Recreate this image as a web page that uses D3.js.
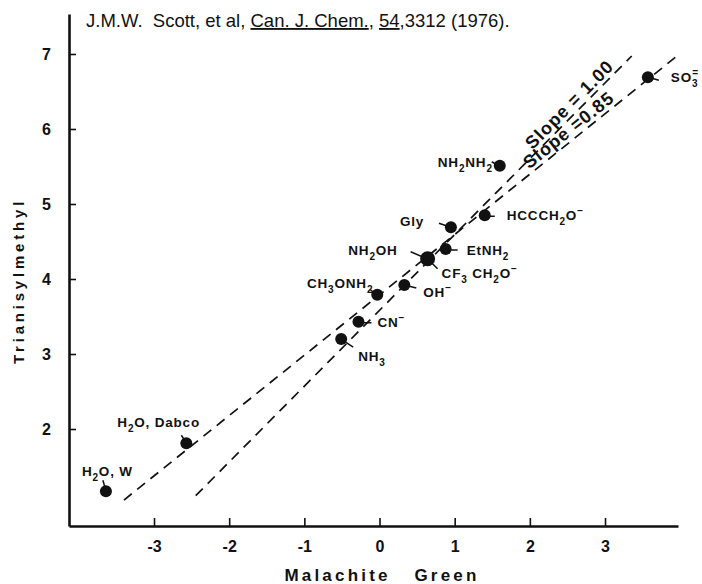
<!DOCTYPE html>
<html>
<head>
<meta charset="utf-8">
<script src="https://cdnjs.cloudflare.com/ajax/libs/d3/7.8.5/d3.min.js"></script>
<style>
  body { margin: 0; background: #fff; }
  text { font-family: "Liberation Sans", Arial, sans-serif; fill: #111; }
</style>
</head>
<body>
<div id="view"></div>
<script>
var width = 702, height = 584;

// data
var names = ["H_2O, W", "H_2O, Dabco", "NH_3", "CN^\u2212", "CH_3ONH_2", "OH^\u2212",
             "CF_3 CH_2O^\u2212", "EtNH_2", "Gly", "HCCCH_2O^\u2212", "NH_2NH_2", "SO_3^="];
var malachite = [-3.64, -2.57, -0.51, -0.28, -0.03, 0.33, 0.64, 0.88, 0.95, 1.40, 1.60, 3.57];
var trianisyl = [1.17, 1.81, 3.20, 3.43, 3.79, 3.92, 4.27, 4.40, 4.69, 4.85, 5.51, 6.69];
var xTicks = [-3, -2, -1, 0, 1, 2, 3];
var yTicks = [2, 3, 4, 5, 6, 7];
// the two dashed correlation lines (end points)
var lineNames = ["Slope = 1.00", "Slope =0.85"];
var lineX = [[-2.445, 3.355], [-3.40, 3.975]];
var lineY = [[1.111, 6.973], [1.053, 6.987]];

// label placement (pixel offsets from the point): [dx, dy, anchor]
var labelPos = [[-24, -15, "start"], [-69, -16, "start"], [17, 22, "start"], [19, 5, "start"],
                [-4, -7, "end"], [19, 12, "start"], [14, 19, "start"], [21, 6, "start"],
                [-51, -1, "start"], [22, 5, "start"], [-7, 1, "end"], [23, 5, "start"]];
// leader ticks: [x1, y1, x2, y2] relative to the point
var leaders = [[[-3, -11], [-1, -4]], [[-5, -8], [-1, -2]], [[3, 2], [12, 8]], [[3, 1], [13, 1]],
               [[-7, -5], [-2, -1]], [[4, 1], [12, 3]], [[3, 3], [10, 10]], [[4, 1], [12, 1]],
               [[-12, -4], [-3, -1]], [[4, 1], [10, 1]], [[-8, -4], [-3, -1]], [[4, 1], [11, 3]]];

var svg = d3.select("#view").append("svg")
  .attr("width", width)
  .attr("height", height);

var x = d3.scaleLinear().domain([-4.131, 3.971]).range([69, 678]);
var y = d3.scaleLinear().domain([0.707, 7.533]).range([526, 14]);

// axes
var xAxis = d3.axisBottom(x).tickValues(xTicks).tickSizeInner(-8).tickSizeOuter(0).tickPadding(15)
  .tickFormat(function(d) { return d < 0 ? "-" + Math.abs(d) : d; });
var yAxis = d3.axisLeft(y).tickValues(yTicks).tickSizeInner(-7).tickSizeOuter(0).tickPadding(18)
  .tickFormat(d3.format("d"));

var gx = svg.append("g").attr("transform", "translate(0," + y.range()[0] + ")").call(xAxis);
var gy = svg.append("g").attr("transform", "translate(" + x.range()[0] + ",0)").call(yAxis);
[gx, gy].forEach(function(g) {
  g.select(".domain").attr("stroke", "#111").attr("stroke-width", 2.6);
  g.selectAll(".tick line").attr("stroke", "#111").attr("stroke-width", 1.6);
  g.selectAll(".tick text").style("font-family", "'Liberation Sans', Arial, sans-serif")
    .style("font-size", "16px").style("font-weight", "bold").attr("fill", "#111");
});

// axis titles
svg.append("text")
  .attr("x", 382).attr("y", 581)
  .attr("text-anchor", "middle")
  .style("font-size", "17px").style("font-weight", "bold").style("letter-spacing", "3.2px")
  .attr("xml:space", "preserve")
  .text("Malachite   Green");

svg.append("text")
  .attr("transform", "translate(24,281) rotate(-90)")
  .attr("text-anchor", "middle")
  .style("font-size", "15px").style("font-weight", "bold").style("letter-spacing", "3.8px")
  .text("Trianisylmethyl");

// reference line
var title = svg.append("text").attr("x", 86).attr("y", 27)
  .style("font-size", "18.5px").attr("xml:space", "preserve");
[["J.M.W.  Scott, et al, ", false], ["Can. J. Chem.", true], [", ", false],
 ["54", true], [",3312 (1976).", false]].forEach(function(p) {
  var t = title.append("tspan").text(p[0]);
  if (p[1]) t.attr("text-decoration", "underline");
});

// dashed lines
var lineIdx = d3.range(lineX.length);
svg.selectAll(".fit")
  .data(lineIdx).enter()
  .append("line")
  .attr("class", "fit")
  .attr("x1", function(i) { return x(lineX[i][0]); })
  .attr("y1", function(i) { return y(lineY[i][0]); })
  .attr("x2", function(i) { return x(lineX[i][1]); })
  .attr("y2", function(i) { return y(lineY[i][1]); })
  .attr("stroke", "#111").attr("stroke-width", 1.7)
  .attr("stroke-dasharray", "10,7");

// line captions, sitting on each line
var capX = [2.62, 2.60];
function onLine(i, v) {
  var t = (v - lineX[i][0]) / (lineX[i][1] - lineX[i][0]);
  return lineY[i][0] + t * (lineY[i][1] - lineY[i][0]);
}
svg.selectAll(".cap")
  .data(lineIdx).enter()
  .append("text")
  .attr("class", "cap")
  .attr("transform", function(i) {
    var a = Math.atan2(y(lineY[i][1]) - y(lineY[i][0]), x(lineX[i][1]) - x(lineX[i][0])) * 180 / Math.PI;
    return "translate(" + x(capX[i]) + "," + y(onLine(i, capX[i])) + ") rotate(" + a + ")";
  })
  .attr("text-anchor", "middle")
  .attr("dy", -4)
  .style("font-size", "18px").style("font-weight", "bold").style("letter-spacing", "1px")
  .attr("xml:space", "preserve")
  .text(function(i) { return lineNames[i]; });

var idx = d3.range(names.length);

// leader ticks
svg.selectAll(".lead")
  .data(idx).enter()
  .append("line")
  .attr("class", "lead")
  .attr("x1", function(i) { return x(malachite[i]) + leaders[i][0][0]; })
  .attr("y1", function(i) { return y(trianisyl[i]) + leaders[i][0][1]; })
  .attr("x2", function(i) { return x(malachite[i]) + leaders[i][1][0]; })
  .attr("y2", function(i) { return y(trianisyl[i]) + leaders[i][1][1]; })
  .attr("stroke", "#111").attr("stroke-width", 1.5);

// extra leader for NH2OH sharing the big point
var big = 6;
svg.append("line")
  .attr("x1", x(malachite[big]) - 17).attr("y1", y(trianisyl[big]) - 7)
  .attr("x2", x(malachite[big]) - 3).attr("y2", y(trianisyl[big]) - 1)
  .attr("stroke", "#111").attr("stroke-width", 1.5);

// points
svg.selectAll(".node")
  .data(idx).enter()
  .append("circle")
  .attr("class", "node")
  .attr("cx", function(i) { return x(malachite[i]); })
  .attr("cy", function(i) { return y(trianisyl[i]); })
  .attr("r", function(i) { return i === big ? 7.5 : 6; })
  .style("fill", "#111");

// labels with sub/superscripts ("_c" sub, "^c" sup; a sup right after a sub is stacked)
function addLabel(sel, s) {
  var shift = 0, buf = "", prevSub = false;
  function flush() {
    if (buf) { sel.append("tspan").attr("dy", -shift).text(buf); shift = 0; buf = ""; }
  }
  for (var k = 0; k < s.length; k++) {
    var c = s[k];
    if (c === "_" || c === "^") {
      flush();
      var ch = s[k + 1]; k++;
      var target = c === "_" ? 5 : -6;
      var t = sel.append("tspan").attr("dy", target - shift).style("font-size", "10px").text(ch);
      if (c === "^" && prevSub) t.attr("dx", -6);
      prevSub = c === "_";
      shift = target;
    } else { buf += c; prevSub = false; }
  }
  flush();
}

svg.selectAll(".lbl")
  .data(idx).enter()
  .append("text")
  .attr("class", "lbl")
  .attr("x", function(i) { return x(malachite[i]) + labelPos[i][0]; })
  .attr("y", function(i) { return y(trianisyl[i]) + labelPos[i][1]; })
  .attr("text-anchor", function(i) { return labelPos[i][2]; })
  .style("font-size", "13.5px").style("font-weight", "bold").style("letter-spacing", "0.8px")
  .attr("xml:space", "preserve")
  .each(function(i) { addLabel(d3.select(this), names[i]); });

// NH2OH label for the big point
var nh = svg.append("text")
  .attr("x", x(malachite[big]) - 30).attr("y", y(trianisyl[big]) - 4)
  .attr("text-anchor", "end")
  .style("font-size", "13.5px").style("font-weight", "bold").style("letter-spacing", "0.8px");
addLabel(nh, "NH_2OH");
</script>
</body>
</html>
